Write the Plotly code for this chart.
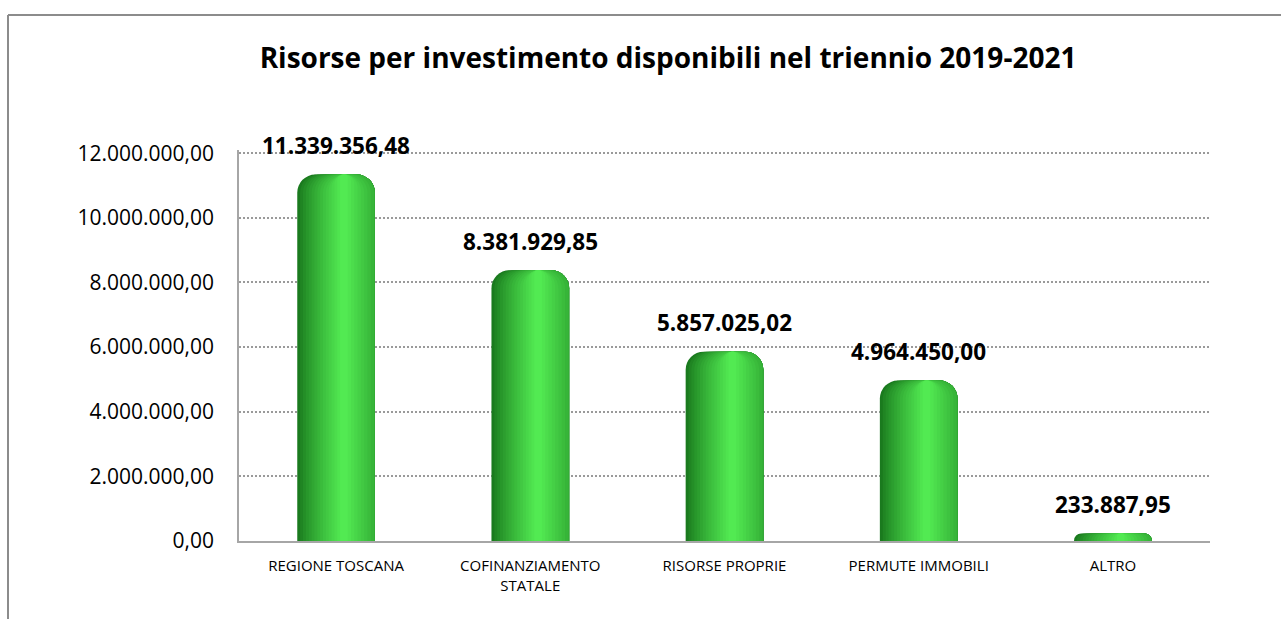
import plotly.graph_objects as go

# Investment resources for 2019-2021 (EUR)
categories = ["REGIONE TOSCANA", "COFINANZIAMENTO<br>STATALE", "RISORSE PROPRIE",
              "PERMUTE IMMOBILI", "ALTRO"]
amounts = [11339356.48, 8381929.85, 5857025.02, 4964450.00, 233887.95]
y_ticks = [0, 2000000, 4000000, 6000000, 8000000, 10000000, 12000000]


def it_number(v):
    """Italian style: dot for thousands, comma for decimals."""
    s = f"{v:,.2f}"
    return s.replace(",", "#").replace(".", ",").replace("#", ".")


def mix(c1, c2, t):
    a = [int(c1[i:i + 2], 16) for i in (1, 3, 5)]
    b = [int(c2[i:i + 2], 16) for i in (1, 3, 5)]
    return "#" + "".join(f"{round(x + (y - x) * t):02x}" for x, y in zip(a, b))


BAR_W = 0.40
DARK, BRIGHT = "#1a7a1e", "#52ea52"
N_LAYERS = 16
PEAK = 0.60          # horizontal position of the highlight across the bar
RIGHT_EDGE_T = 0.45  # brightness level of the right rim

# nested layers give the cylinder shading
layers = []
for k in range(N_LAYERS):
    t = k / (N_LAYERS - 1)
    left = PEAK * 0.92 * t
    if t <= RIGHT_EDGE_T:
        right = 1.0
    else:
        right = 1.0 - (1.0 - PEAK - 0.05) * (t - RIGHT_EDGE_T) / (1 - RIGHT_EDGE_T)
    layers.append((left, right, mix(DARK, BRIGHT, t ** 0.85)))

fig = go.Figure()
for left, right, col in layers:
    fig.add_trace(go.Bar(
        x=categories, y=amounts,
        width=(right - left) * BAR_W, offset=(left - 0.5) * BAR_W,
        marker=dict(color=col, line=dict(width=0), cornerradius=18),
        hoverinfo="skip", showlegend=False,
    ))

# value labels above each bar
for cat, val in zip(categories, amounts):
    fig.add_annotation(x=cat, y=val, text=f"<b>{it_number(val)}</b>", showarrow=False,
                       yanchor="middle", yshift=29,
                       font=dict(family="Open Sans", size=22.5, color="#000000"))

fig.update_layout(
    barmode="overlay",
    separators=",.",
    width=1281, height=619,
    margin=dict(l=239, r=71, t=150, b=78),
    paper_bgcolor="white", plot_bgcolor="white",
    title=dict(text="<b>Risorse per investimento disponibili nel triennio 2019-2021</b>",
               x=0.5215, xanchor="center", y=0.906, yanchor="middle",
               font=dict(family="Open Sans", size=28, color="#000000")),
    font=dict(family="Open Sans", color="#000000"),
    xaxis=dict(showline=True, linecolor="#a6a6a6", linewidth=2, ticks="outside",
               ticklen=10, tickcolor="rgba(0,0,0,0)",
               tickfont=dict(size=15), showgrid=False),
    yaxis=dict(range=[0, 12100000], tickvals=y_ticks, tickformat=",.2f",
               showline=True, linecolor="#a6a6a6", linewidth=1.5,
               showgrid=True, gridcolor="#9a9a9a", griddash="2px,2px", gridwidth=1.5,
               tickfont=dict(size=21), ticks="outside", ticklen=19,
               tickcolor="rgba(0,0,0,0)", zeroline=False),
    shapes=[
        dict(type="line", xref="paper", yref="paper", x0=-0.2379, x1=1.1, y0=1.3453, y1=1.3453,
             line=dict(color="#8c8c8c", width=2)),
        dict(type="line", xref="paper", yref="paper", x0=-0.2379, x1=-0.2379, y0=1.3453, y1=-0.3,
             line=dict(color="#8c8c8c", width=2)),
    ],
)

fig.write_html("out.html")
